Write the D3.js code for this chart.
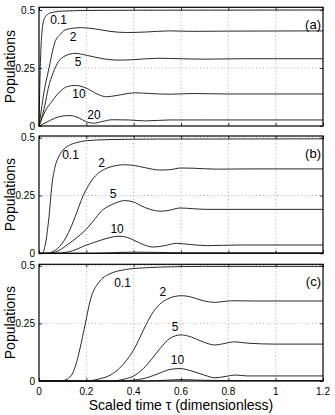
<!DOCTYPE html>
<html>
<head>
<meta charset="utf-8">
<script src="https://cdn.jsdelivr.net/npm/d3@7"></script>
<style>
  body { margin: 0; background: #fff; }
  text { font-family: "Liberation Sans", Arial, sans-serif; }
</style>
</head>
<body>
<div id="chart"></div>
<script>
// ---- data: [tau, population] ----
var xTicks = [0, 0.2, 0.4, 0.6, 0.8, 1, 1.2];
var yTicks = [0, 0.25, 0.5];
var panelNames = ["(a)", "(b)", "(c)"];

var a_01 = [[0,0],[0.004,0.2],[0.008,0.33],[0.013,0.41],[0.02,0.455],[0.03,0.475],[0.05,0.488],[0.1,0.495],[0.2,0.498],[0.4,0.499],[1.2,0.5]];
var a_2 = [[0,0],[0.01,0.07],[0.02,0.14],[0.039,0.234],[0.068,0.363],[0.09,0.395],[0.11,0.414],[0.14,0.421],[0.18,0.424],[0.24,0.418],[0.3,0.408],[0.37,0.403],[0.45,0.405],[0.55,0.41],[0.65,0.408],[0.8,0.409],[1.2,0.41]];
var a_5 = [[0,0],[0.011,0.034],[0.025,0.09],[0.039,0.162],[0.06,0.23],[0.082,0.277],[0.11,0.302],[0.152,0.313],[0.2,0.305],[0.27,0.29],[0.33,0.284],[0.4,0.286],[0.5,0.292],[0.6,0.29],[0.7,0.288],[0.85,0.29],[1.2,0.29]];
var a_10 = [[0,0],[0.025,0.062],[0.054,0.105],[0.09,0.15],[0.12,0.17],[0.155,0.175],[0.2,0.163],[0.25,0.136],[0.285,0.126],[0.33,0.132],[0.406,0.143],[0.47,0.14],[0.55,0.137],[0.65,0.14],[0.8,0.138],[1.2,0.138]];
var a_20 = [[0,0],[0.03,0.015],[0.07,0.035],[0.1,0.043],[0.131,0.045],[0.17,0.034],[0.2,0.018],[0.23,0.012],[0.27,0.02],[0.31,0.027],[0.38,0.026],[0.45,0.022],[0.55,0.026],[0.7,0.026],[1.2,0.026]];

var b_01 = [[0,0],[0.015,0],[0.025,0.03],[0.042,0.155],[0.054,0.29],[0.068,0.375],[0.082,0.415],[0.1,0.445],[0.124,0.465],[0.16,0.479],[0.2,0.487],[0.3,0.492],[0.5,0.494],[1.2,0.495]];
var b_2 = [[0,0],[0.03,0],[0.06,0.008],[0.096,0.04],[0.125,0.09],[0.152,0.156],[0.187,0.25],[0.23,0.325],[0.265,0.357],[0.3,0.373],[0.335,0.381],[0.363,0.383],[0.4,0.38],[0.45,0.37],[0.51,0.36],[0.555,0.362],[0.6,0.369],[0.65,0.368],[0.75,0.364],[0.9,0.365],[1.2,0.365]];
var b_5 = [[0,0],[0.04,0],[0.08,0.01],[0.124,0.04],[0.16,0.068],[0.194,0.098],[0.23,0.14],[0.265,0.184],[0.3,0.207],[0.335,0.222],[0.36,0.228],[0.4,0.222],[0.43,0.206],[0.47,0.19],[0.515,0.182],[0.55,0.186],[0.596,0.196],[0.65,0.193],[0.71,0.19],[0.9,0.19],[1.2,0.19]];
var b_10 = [[0,0],[0.06,0],[0.124,0.006],[0.16,0.018],[0.194,0.033],[0.23,0.046],[0.265,0.058],[0.3,0.068],[0.338,0.074],[0.375,0.068],[0.41,0.052],[0.44,0.038],[0.483,0.027],[0.53,0.033],[0.582,0.043],[0.64,0.038],[0.71,0.033],[0.85,0.036],[1.2,0.036]];
var b_20 = [[0,0],[0.2,0],[0.3,0.002],[0.4,0.005],[0.5,0.004],[0.6,0.002],[1.2,0.002]];

var c_01 = [[0,0],[0.09,0],[0.103,0.002],[0.125,0.012],[0.145,0.04],[0.16,0.085],[0.173,0.14],[0.196,0.25],[0.215,0.343],[0.23,0.39],[0.244,0.415],[0.27,0.447],[0.3,0.465],[0.37,0.484],[0.45,0.491],[0.51,0.494],[0.7,0.497],[1.2,0.497]];
var c_2 = [[0,0],[0.2,0],[0.25,0.008],[0.3,0.025],[0.34,0.055],[0.37,0.09],[0.4,0.135],[0.427,0.19],[0.455,0.25],[0.483,0.3],[0.51,0.333],[0.54,0.354],[0.57,0.366],[0.603,0.37],[0.64,0.365],[0.68,0.352],[0.72,0.343],[0.744,0.341],[0.79,0.346],[0.828,0.348],[0.9,0.347],[1.2,0.347]];
var c_5 = [[0,0],[0.3,0],[0.36,0.008],[0.4,0.022],[0.44,0.053],[0.48,0.1],[0.511,0.14],[0.553,0.185],[0.6,0.2],[0.64,0.192],[0.68,0.175],[0.72,0.16],[0.744,0.156],[0.78,0.162],[0.828,0.17],[0.88,0.164],[1,0.16],[1.2,0.16]];
var c_10 = [[0,0],[0.35,0],[0.4,0.004],[0.44,0.01],[0.5,0.03],[0.553,0.05],[0.596,0.054],[0.64,0.045],[0.7,0.025],[0.744,0.014],[0.79,0.02],[0.828,0.026],[0.88,0.022],[1.2,0.022]];
var c_20 = [[0,0],[0.45,0],[0.55,0.004],[0.6,0.006],[0.7,0.003],[0.8,0.002],[1.2,0.002]];

var panelCurves = [
  [a_01, a_2, a_5, a_10, a_20],
  [b_01, b_2, b_5, b_10, b_20],
  [c_01, c_2, c_5, c_10, c_20]
];

// curve labels: [text, tau, population]
var panelLabels = [
  [["0.1", 0.083, 0.439], ["2", 0.144, 0.365], ["5", 0.165, 0.258], ["10", 0.169, 0.12], ["20", 0.232, 0.029]],
  [["0.1", 0.133, 0.407], ["2", 0.265, 0.372], ["5", 0.313, 0.238], ["10", 0.33, 0.087]],
  [["0.1", 0.353, 0.408], ["2", 0.523, 0.369], ["5", 0.575, 0.217], ["10", 0.585, 0.072]]
];

var width = 335, height = 415;
var left = 39, right = 323;
// box tops / bottoms and where 0.5 sits, per panel
var tops = [7.3, 136, 264.3], bottoms = [126, 253.3, 381], halfs = [10, 137.7, 265.7];

var svg = d3.select("#chart").append("svg")
    .attr("width", width)
    .attr("height", height);

var x = d3.scaleLinear().domain([0, 1.2]).range([left, right]);

for (var p = 0; p < 3; p++) {
  var y = d3.scaleLinear().domain([0, 0.5]).range([bottoms[p], halfs[p]]);
  var g = svg.append("g");

  // dotted grid
  g.selectAll(".gx").data(xTicks.slice(1, -1)).enter().append("line")
    .attr("x1", function(d){ return x(d); }).attr("x2", function(d){ return x(d); })
    .attr("y1", tops[p]).attr("y2", bottoms[p])
    .style("stroke", "#999").style("stroke-width", 0.8).style("stroke-dasharray", "1,2.5");
  g.selectAll(".gy").data(yTicks.slice(1)).enter().append("line")
    .attr("x1", left).attr("x2", right)
    .attr("y1", function(d){ return y(d); }).attr("y2", function(d){ return y(d); })
    .style("stroke", "#999").style("stroke-width", 0.8).style("stroke-dasharray", "1,2.5");

  // inward ticks on all four sides
  var axB = d3.axisBottom(x).tickValues(xTicks).tickSizeInner(-3).tickSizeOuter(0).tickFormat("");
  var axT = d3.axisTop(x).tickValues(xTicks).tickSizeInner(-3).tickSizeOuter(0).tickFormat("");
  var axL = d3.axisLeft(y).tickValues(yTicks).tickSizeInner(-3).tickSizeOuter(0).tickFormat("");
  var axR = d3.axisRight(y).tickValues(yTicks).tickSizeInner(-3).tickSizeOuter(0).tickFormat("");
  [[axB, "translate(0," + bottoms[p] + ")"], [axT, "translate(0," + tops[p] + ")"],
   [axL, "translate(" + left + ",0)"], [axR, "translate(" + right + ",0)"]].forEach(function(a){
    var ag = g.append("g").attr("transform", a[1]).call(a[0]);
    ag.select(".domain").remove();
    ag.selectAll("line").style("stroke", "#000").style("stroke-width", 0.8);
  });

  // y tick labels
  g.selectAll(".yl").data(yTicks).enter().append("text")
    .attr("x", left - 4)
    .attr("y", function(d){ return y(d) + 3.5; })
    .style("text-anchor", "end")
    .style("font-size", "10px")
    .text(function(d){ return d; });

  // curves
  var line = d3.line()
    .x(function(d){ return x(d[0]); })
    .y(function(d){ return y(d[1]); })
    .curve(d3.curveMonotoneX);
  g.selectAll(".curve").data(panelCurves[p]).enter().append("path")
    .attr("d", line)
    .style("fill", "none")
    .style("stroke", "#2a2a2a")
    .style("stroke-width", 1);

  // curve labels
  g.selectAll(".cl").data(panelLabels[p]).enter().append("text")
    .attr("x", function(d){ return x(d[1]); })
    .attr("y", function(d){ return y(d[2]); })
    .style("text-anchor", "middle")
    .style("font-size", "12px")
    .text(function(d){ return d[0]; });

  // box
  g.append("rect")
    .attr("x", left).attr("y", tops[p])
    .attr("width", right - left).attr("height", bottoms[p] - tops[p])
    .style("fill", "none").style("stroke", "#000").style("stroke-width", 1.2);

  g.append("text")
    .attr("x", right - 2).attr("y", tops[p] + 22)
    .style("text-anchor", "end").style("font-size", "13px")
    .text(panelNames[p]);

  g.append("text")
    .attr("transform", "translate(15," + (tops[p] + bottoms[p]) / 2 + ") rotate(-90)")
    .style("text-anchor", "middle").style("font-size", "14px")
    .text("Populations");
}

// x tick labels under bottom panel
svg.selectAll(".xl").data(xTicks).enter().append("text")
  .attr("x", function(d){ return x(d); })
  .attr("y", bottoms[2] + 13.5)
  .style("text-anchor", "middle")
  .style("font-size", "10px")
  .text(function(d){ return d; });

svg.append("text")
  .attr("x", (left + right) / 2).attr("y", 410)
  .style("text-anchor", "middle").style("font-size", "14px")
  .text("Scaled time \u03c4 (dimensionless)");
</script>
</body>
</html>
